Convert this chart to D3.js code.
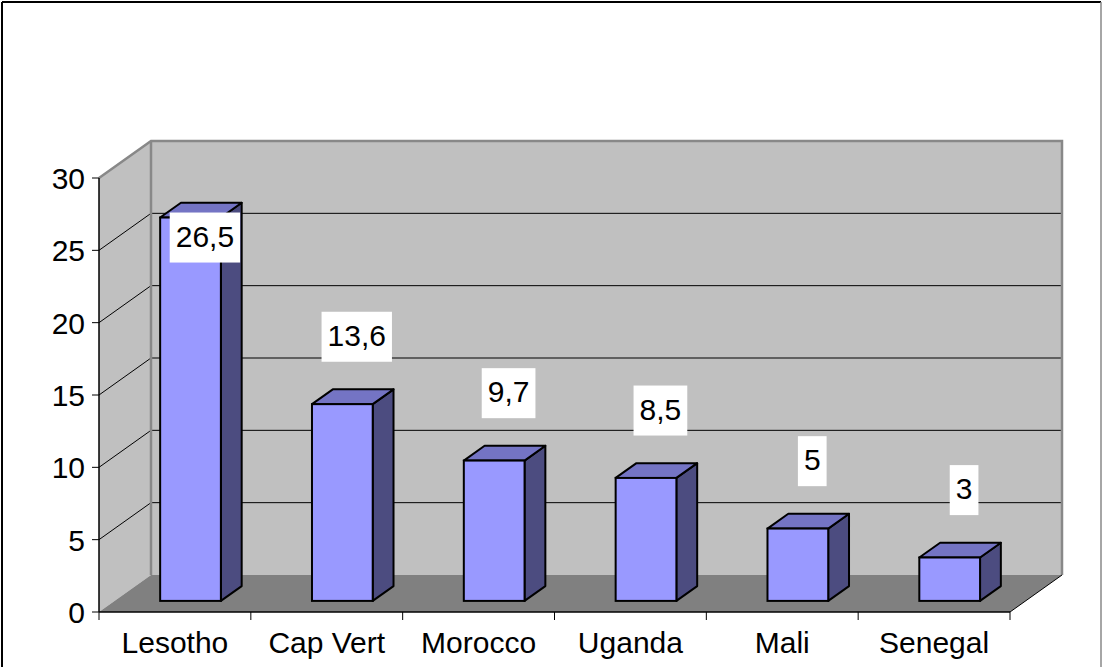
<!DOCTYPE html>
<html>
  <head>
    <meta charset="utf-8">
    <script src="https://d3js.org/d3.v7.min.js"></script>
    <style>
      body { margin: 0; background: white; }
      text { font-family: "Liberation Sans", Arial, sans-serif; }
    </style>
  </head>
  <body>
    <script>
      // chart data
      var countries = ["Lesotho", "Cap Vert", "Morocco", "Uganda", "Mali", "Senegal"];
      var values = [26.5, 13.6, 9.7, 8.5, 5, 3];
      var valueLabels = ["26,5", "13,6", "9,7", "8,5", "5", "3"];
      var yTicks = [0, 5, 10, 15, 20, 25, 30];

      var width = 1103, height = 667;

      // depth of the 3d box
      var depthX = 52, depthY = -37;
      var barFront = 0.3, barBack = 0.7;

      var svg = d3.select("body").append("svg")
        .attr("width", width)
        .attr("height", height);

      var x = d3.scaleBand()
        .domain(countries)
        .range([99, 1010])
        .paddingInner(0.6)
        .paddingOuter(0.3);

      var y = d3.scaleLinear()
        .domain([0, 30])
        .range([612, 178]);

      // point in 3d: category position, value, depth fraction
      function pt(px, v, d) {
        return [px + d * depthX, y(v) + d * depthY];
      }
      function poly(pts) {
        return pts.map(function(p) { return p.join(","); }).join(" ");
      }

      var left = x.range()[0], right = x.range()[1];

      // outer border
      svg.append("line").attr("x1", 2).attr("y1", 2).attr("x2", 2).attr("y2", height)
        .attr("stroke", "#000").attr("stroke-width", 2);
      svg.append("line").attr("x1", 2).attr("y1", 2).attr("x2", 1101).attr("y2", 2)
        .attr("stroke", "#000").attr("stroke-width", 2);
      svg.append("line").attr("x1", 1101).attr("y1", 2).attr("x2", 1101).attr("y2", height)
        .attr("stroke", "#888").attr("stroke-width", 1.5);

      var g = svg.append("g");

      // back wall
      var bw0 = pt(left, 30, 1), bw1 = pt(right, 0, 1);
      g.append("rect")
        .attr("x", bw0[0]).attr("y", bw0[1])
        .attr("width", bw1[0] - bw0[0]).attr("height", bw1[1] - bw0[1])
        .attr("fill", "#c0c0c0");

      // side wall
      g.append("polygon")
        .attr("points", poly([pt(left, 30, 0), pt(left, 30, 1), pt(left, 0, 1), pt(left, 0, 0)]))
        .attr("fill", "#c0c0c0");

      // floor
      g.append("polygon")
        .attr("points", poly([pt(left, 0, 0), pt(left, 0, 1), pt(right, 0, 1), pt(right, 0, 0)]))
        .attr("fill", "#808080");

      // gridlines
      var grid = yTicks.filter(function(t) { return t > 0 && t < 30; });
      g.selectAll(".gback").data(grid).enter().append("line")
        .attr("x1", function(t) { return pt(left, t, 1)[0]; })
        .attr("y1", function(t) { return pt(left, t, 1)[1]; })
        .attr("x2", function(t) { return pt(right, t, 1)[0]; })
        .attr("y2", function(t) { return pt(right, t, 1)[1]; })
        .attr("stroke", "#000").attr("stroke-width", 1);
      g.selectAll(".gside").data(grid).enter().append("line")
        .attr("x1", function(t) { return pt(left, t, 0)[0]; })
        .attr("y1", function(t) { return pt(left, t, 0)[1]; })
        .attr("x2", function(t) { return pt(left, t, 1)[0]; })
        .attr("y2", function(t) { return pt(left, t, 1)[1]; })
        .attr("stroke", "#000").attr("stroke-width", 1);

      // wall edges (gray)
      g.append("polyline")
        .attr("points", poly([pt(left, 30, 0), pt(left, 30, 1), pt(right, 30, 1), pt(right, 0, 1)]))
        .attr("fill", "none").attr("stroke", "#888").attr("stroke-width", 2.5);
      g.append("line")
        .attr("x1", pt(left, 30, 1)[0]).attr("y1", pt(left, 30, 1)[1])
        .attr("x2", pt(left, 0, 1)[0]).attr("y2", pt(left, 0, 1)[1])
        .attr("stroke", "#888").attr("stroke-width", 2.5);

      // floor right edge
      g.append("line")
        .attr("x1", pt(right, 0, 0)[0]).attr("y1", pt(right, 0, 0)[1])
        .attr("x2", pt(right, 0, 1)[0]).attr("y2", pt(right, 0, 1)[1])
        .attr("stroke", "#000").attr("stroke-width", 1);

      // axes
      g.append("line")
        .attr("x1", left).attr("y1", y(0)).attr("x2", right).attr("y2", y(0))
        .attr("stroke", "#000").attr("stroke-width", 1.5);
      g.append("line")
        .attr("x1", left).attr("y1", y(0)).attr("x2", left).attr("y2", y(30))
        .attr("stroke", "#000").attr("stroke-width", 1.5);

      g.selectAll(".ytick").data(yTicks).enter().append("line")
        .attr("x1", left - 7).attr("x2", left)
        .attr("y1", function(t) { return y(t); }).attr("y2", function(t) { return y(t); })
        .attr("stroke", "#000");
      g.selectAll(".ylab").data(yTicks).enter().append("text")
        .attr("x", left - 14)
        .attr("y", function(t) { return y(t) + 11; })
        .attr("text-anchor", "end")
        .attr("font-size", 30)
        .text(function(t) { return t; });

      var step = x.step();
      var xt = d3.range(countries.length + 1).map(function(i) { return left + i * step; });
      g.selectAll(".xtick").data(xt).enter().append("line")
        .attr("x1", function(d) { return d; }).attr("x2", function(d) { return d; })
        .attr("y1", y(0)).attr("y2", y(0) + 8)
        .attr("stroke", "#000");
      g.selectAll(".xlab").data(countries).enter().append("text")
        .attr("x", function(d) { return left + (countries.indexOf(d) + 0.5) * step; })
        .attr("y", 653)
        .attr("text-anchor", "middle")
        .attr("font-size", 30)
        .text(function(d) { return d; });

      // bars
      var bars = g.selectAll(".bar").data(countries).enter().append("g");
      bars.each(function(c, i) {
        var b = d3.select(this);
        var x0 = x(c), x1 = x(c) + x.bandwidth(), v = values[i];
        // side face
        b.append("polygon")
          .attr("points", poly([pt(x1, 0, barFront), pt(x1, 0, barBack), pt(x1, v, barBack), pt(x1, v, barFront)]))
          .attr("fill", "#4c4c80").attr("stroke", "#000").attr("stroke-width", 2)
          .attr("stroke-linejoin", "round");
        // top face
        b.append("polygon")
          .attr("points", poly([pt(x0, v, barFront), pt(x0, v, barBack), pt(x1, v, barBack), pt(x1, v, barFront)]))
          .attr("fill", "#7474c4").attr("stroke", "#000").attr("stroke-width", 2)
          .attr("stroke-linejoin", "round");
        // front face
        var f0 = pt(x0, v, barFront), f1 = pt(x1, 0, barFront);
        b.append("rect")
          .attr("x", f0[0]).attr("y", f0[1])
          .attr("width", f1[0] - f0[0]).attr("height", f1[1] - f0[1])
          .attr("fill", "#9999ff").attr("stroke", "#000").attr("stroke-width", 2);
      });

      // value labels
      var wallTop = pt(left, 30, 1)[1];
      var labs = g.selectAll(".vlab").data(countries).enter().append("g");
      labs.each(function(c, i) {
        var lg = d3.select(this);
        var mid = (barFront + barBack) / 2;
        var top = pt(x(c) + x.bandwidth() / 2, values[i], mid);
        var cx = top[0] + 4;
        var cy = top[1] - 60;
        if (cy - 25 < wallTop) cy = pt(0, values[i], barFront)[1] + 20;
        var r = lg.append("rect").attr("fill", "#fff");
        var t = lg.append("text")
          .attr("x", cx).attr("y", cy + 9)
          .attr("text-anchor", "middle")
          .attr("font-size", 30)
          .text(valueLabels[i]);
        var w = t.node().getComputedTextLength() + 12;
        r.attr("x", cx - w / 2).attr("y", cy - 25).attr("width", w).attr("height", 50);
      });
    </script>
  </body>
</html>
